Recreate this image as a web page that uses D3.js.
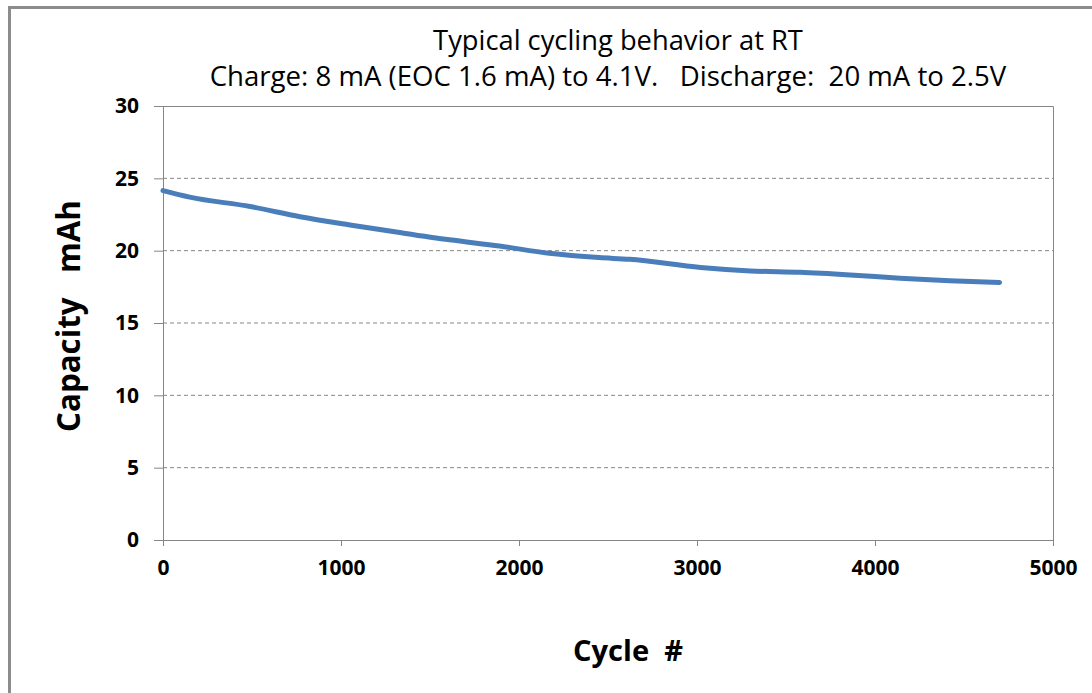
<!DOCTYPE html>
<html><head><meta charset="utf-8">
<script src="https://cdn.jsdelivr.net/npm/d3@7"></script>
<style>body{margin:0;background:#fff;overflow:hidden}svg{display:block}</style>
</head><body>
<script>
const cycles =   [0, 150, 490, 770, 1050, 1330, 1610, 1890, 2170, 2450, 2620, 3020, 3300, 3580, 3860, 4140, 4420, 4700];
const capacity = [24.15, 23.7, 23.05, 22.35, 21.78, 21.25, 20.75, 20.32, 19.82, 19.52, 19.4, 18.84, 18.6, 18.5, 18.32, 18.1, 17.92, 17.8];
const xTicks = [0, 1000, 2000, 3000, 4000, 5000];
const yTicks = [0, 5, 10, 15, 20, 25, 30];
const titleLines = ["Typical cycling behavior at RT", "Charge: 8 mA (EOC 1.6 mA) to 4.1V.   Discharge:  20 mA to 2.5V"];
const xLabel = "Cycle  #";
const yLabel = "Capacity   mAh";

const W = 1092, H = 693;
const m = {left:163, right:W-1053, top:106, bottom:H-540};
const font = "'Open Sans',Arial,sans-serif";
const grey = "#868686";

const svg = d3.select("body").append("svg").attr("width", W).attr("height", H);
// outer frame
svg.append("rect").attr("x", 9.5).attr("y", 7.5).attr("width", W+20).attr("height", H+20)
  .attr("fill","none").attr("stroke","#8c8c8c").attr("stroke-width",3);

const x = d3.scaleLinear().domain([0,5000]).range([m.left, W-m.right]);
const y = d3.scaleLinear().domain([0,30]).range([H-m.bottom, m.top]);

// gridlines
svg.append("g").selectAll("line").data(yTicks.filter(d=>d>0 && d<30)).join("line")
  .attr("x1", x(0)).attr("x2", x(5000)).attr("y1", d=>y(d)).attr("y2", d=>y(d))
  .attr("stroke", grey).attr("stroke-width",1).attr("stroke-dasharray","4,3");
// top & right plot border
svg.append("path").attr("d", `M${x(0)},${y(30)+0.5}H${x(5000)+0.5}V${y(0)}`)
  .attr("fill","none").attr("stroke", grey).attr("stroke-width",1);

// axes
const xAxis = svg.append("g").attr("transform",`translate(0,${y(0)})`)
  .call(d3.axisBottom(x).tickValues(xTicks).tickSize(6).tickPadding(10).tickFormat(d3.format("d")));
const yAxis = svg.append("g").attr("transform",`translate(${x(0)},0)`)
  .call(d3.axisLeft(y).tickValues(yTicks).tickSize(9).tickPadding(15));
[xAxis, yAxis].forEach(g=>{
  g.select(".domain").attr("stroke", grey);
  g.selectAll(".tick line").attr("stroke", grey);
  g.selectAll("text").attr("font-family", font).attr("font-weight","bold")
    .style("font-size", "21px").attr("fill","#000");
});
xAxis.selectAll(".tick text").attr("dy","0.9em");

// line
svg.append("path").datum(cycles.map((c,i)=>[c, capacity[i]]))
  .attr("d", d3.line().x(d=>x(d[0])).y(d=>y(d[1])).curve(d3.curveMonotoneX))
  .attr("fill","none").attr("stroke","#4a7ebb").attr("stroke-width",5).attr("stroke-linecap","round");

// titles
function fitText(sel, width){
  const n = sel.node(); const w = n.getComputedTextLength();
  const fs = parseFloat(sel.attr("font-size"));
  sel.attr("font-size", fs*width/w);
}
const t1 = svg.append("text").attr("x", 618).attr("y", 50).attr("text-anchor","middle")
  .attr("font-family", font).attr("font-size", 22).text(titleLines[0]);
fitText(t1, 370);
const t2 = svg.append("text").attr("x", 608).attr("y", 86).attr("text-anchor","middle")
  .attr("font-family", font).attr("font-size", 22)
  .style("white-space","pre").text(titleLines[1]);
fitText(t2, 797);

const xl = svg.append("text").attr("x", 628).attr("y", 661).attr("text-anchor","middle")
  .attr("font-family", font).attr("font-weight","bold").attr("font-size", 26)
  .style("white-space","pre").text(xLabel);
fitText(xl, 110);
const yl = svg.append("text").attr("transform","translate(80,316) rotate(-90)").attr("text-anchor","middle")
  .attr("font-family", font).attr("font-weight","bold").attr("font-size", 26)
  .style("white-space","pre").text(yLabel);
fitText(yl, 232);
</script>
</body></html>
